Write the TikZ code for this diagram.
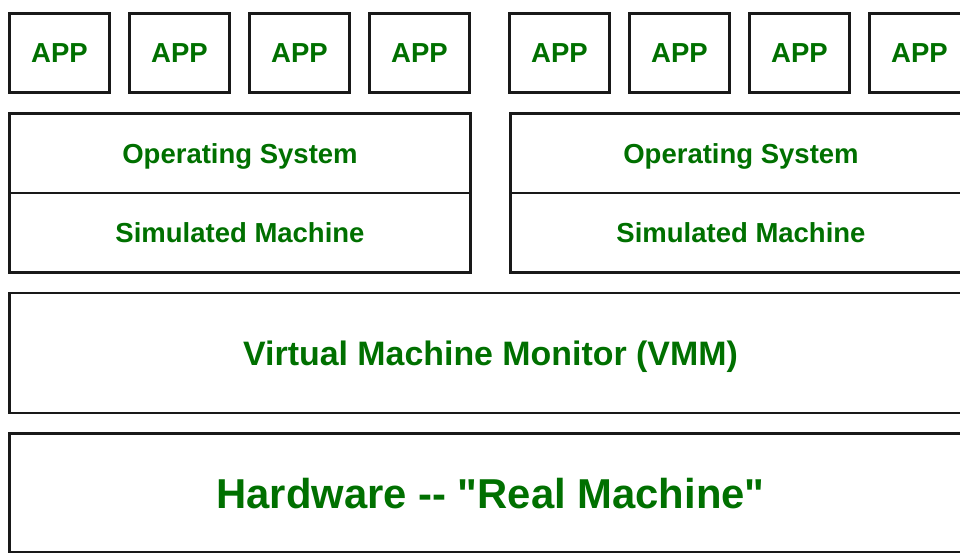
\documentclass[tikz,border=0pt]{standalone}
\usepackage{fontspec}
\setmainfont{Liberation Sans}[Ligatures=TeXOff]
\definecolor{labelgreen}{RGB}{0,112,0}
\tikzset{
	layer/.style={draw=black!90, line width=2.4pt, rectangle, inner sep=0pt, text=labelgreen, text depth=0pt, font=\bfseries\fontsize{27.5}{33}\selectfont},
	app/.style={layer, minimum width=100pt, minimum height=79pt},
	half/.style={layer, minimum width=461pt, minimum height=79.5pt},
	wide/.style={layer, minimum width=962pt, minimum height=120pt},
}
\begin{document}
\begin{tikzpicture}[x=1pt,y=-1pt]
					\useasboundingbox (0,0) rectangle (960,552);
					% apps of the first guest
					\node[app] (a1) at (59.5,53){APP};
					\node[app] (a2) at (179.5,53){APP};
					\node[app] (a3) at (299.5,53){APP};
					\node[app] (a4) at (419.5,53){APP};
					% apps of the second guest
					\node[app] (b1) at (559.5,53){APP};
					\node[app] (b2) at (679.5,53){APP};
					\node[app] (b3) at (799.5,53){APP};
					\node[app] (b4) at (919.5,53){APP};
					% guest layers
					\node[half] (osa) at (240,153.25){Operating System};
					\node[half] (sma) at (240,232.75){Simulated Machine};
					\node[half] (osb) at (741,153.25){Operating System};
					\node[half] (smb) at (741,232.75){Simulated Machine};
					% host layers
					\node[wide, font=\bfseries\fontsize{33.9}{40}\selectfont] (vmm) at (490.5,353){Virtual Machine Monitor (VMM)};
					\node[wide, minimum height=119pt, font=\bfseries\fontsize{41.8}{50}\selectfont] (hw) at (490.5,493){Hardware -- "Real Machine"};
					\end{tikzpicture}
\end{document}
